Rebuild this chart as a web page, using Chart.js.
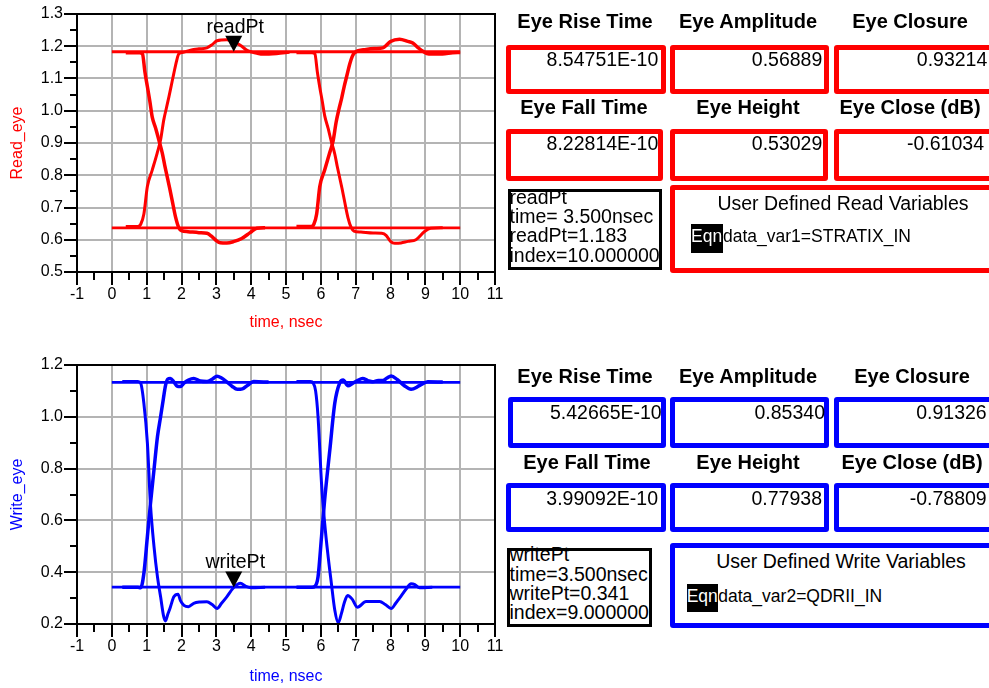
<!DOCTYPE html>
<html><head><meta charset="utf-8">
<script src="https://cdn.jsdelivr.net/npm/chart.js@4.4.1/dist/chart.umd.min.js"></script>
<style>
html,body{margin:0;padding:0;background:#fff;overflow:hidden;width:989px;height:688px;}
body{position:relative;font-family:"Liberation Sans",Arial,sans-serif;color:#000;}
canvas{position:absolute;left:0;}
.hdr{position:absolute;width:160px;text-align:center;font:bold 20px/20px "Liberation Sans",Arial,sans-serif;white-space:nowrap;}
.val{position:absolute;width:200px;text-align:right;font:19.5px/19.5px "Liberation Sans",Arial,sans-serif;white-space:nowrap;}
.box{position:absolute;box-sizing:border-box;border:5px solid;border-radius:3px;}
.red{border-color:#ff0000;}
.blue{border-color:#0000ff;}
.mbox{position:absolute;box-sizing:border-box;border:3px solid #000;}
.mk{position:absolute;font:19.5px/19.2px "Liberation Sans",Arial,sans-serif;white-space:pre;}
.ud{position:absolute;width:320px;text-align:center;font:19.5px/19.5px "Liberation Sans",Arial,sans-serif;white-space:nowrap;}
.eqbg{position:absolute;background:#000;}
.eq{position:absolute;font:17.5px/17.5px "Liberation Sans",Arial,sans-serif;white-space:nowrap;}
</style>
</head><body>
<canvas id="readChart" width="507" height="340" style="top:0"></canvas>
<canvas id="writeChart" width="507" height="344" style="top:350px"></canvas>

<!-- Read panel -->
<div class="hdr" style="left:505px;top:11.4px">Eye Rise Time</div>
<div class="hdr" style="left:668px;top:11.4px">Eye Amplitude</div>
<div class="hdr" style="left:830px;top:11.4px">Eye Closure</div>
<div class="box red" style="left:506px;top:45px;width:160px;height:49px"></div>
<div class="box red" style="left:670px;top:45px;width:159px;height:49px"></div>
<div class="box red" style="left:834px;top:45px;width:161px;height:49px"></div>
<div class="val" style="left:458.3px;top:49.5px">8.54751E-10</div>
<div class="val" style="left:622.3px;top:49.5px">0.56889</div>
<div class="val" style="left:787.3px;top:49.5px">0.93214</div>
<div class="hdr" style="left:504px;top:97.4px">Eye Fall Time</div>
<div class="hdr" style="left:668px;top:97.4px">Eye Height</div>
<div class="hdr" style="left:830px;top:97.4px">Eye Close (dB)</div>
<div class="box red" style="left:506px;top:129px;width:157px;height:52px"></div>
<div class="box red" style="left:670px;top:129px;width:158px;height:52px"></div>
<div class="box red" style="left:834px;top:129px;width:161px;height:52px"></div>
<div class="val" style="left:458.3px;top:134.2px">8.22814E-10</div>
<div class="val" style="left:622.3px;top:134.2px">0.53029</div>
<div class="val" style="left:784px;top:134.2px">-0.61034</div>
<div class="mbox" style="left:508px;top:189px;width:154px;height:81px"></div>
<div class="mk" style="left:509.5px;top:188px">readPt
time= 3.500nsec
readPt=1.183
index=10.000000</div>
<div class="box red" style="left:670px;top:185px;width:325px;height:88px"></div>
<div class="ud" style="left:683px;top:193.5px">User Defined Read Variables</div>
<div class="eqbg" style="left:691px;top:224px;width:32px;height:29px"></div>
<div class="eq" style="left:691px;top:227.9px;color:#fff">Eqn</div>
<div class="eq" style="left:723px;top:227.9px">data_var1=STRATIX_IN</div>

<!-- Write panel -->
<div class="hdr" style="left:505px;top:365.8px">Eye Rise Time</div>
<div class="hdr" style="left:668px;top:365.8px">Eye Amplitude</div>
<div class="hdr" style="left:832px;top:365.8px">Eye Closure</div>
<div class="box blue" style="left:508px;top:397px;width:158px;height:51px"></div>
<div class="box blue" style="left:670px;top:397px;width:159px;height:51px"></div>
<div class="box blue" style="left:834px;top:397px;width:161px;height:51px"></div>
<div class="val" style="left:461.7px;top:402.5px">5.42665E-10</div>
<div class="val" style="left:625px;top:402.5px">0.85340</div>
<div class="val" style="left:786.7px;top:402.5px">0.91326</div>
<div class="hdr" style="left:507px;top:452.1px">Eye Fall Time</div>
<div class="hdr" style="left:668px;top:452.1px">Eye Height</div>
<div class="hdr" style="left:832px;top:452.1px">Eye Close (dB)</div>
<div class="box blue" style="left:506px;top:483px;width:160px;height:49px"></div>
<div class="box blue" style="left:670px;top:483px;width:159px;height:49px"></div>
<div class="box blue" style="left:834px;top:483px;width:161px;height:49px"></div>
<div class="val" style="left:458px;top:488.5px">3.99092E-10</div>
<div class="val" style="left:622px;top:488.5px">0.77938</div>
<div class="val" style="left:786.7px;top:488.5px">-0.78809</div>
<div class="mbox" style="left:507px;top:548px;width:145px;height:79px"></div>
<div class="mk" style="left:509.5px;top:545.3px">writePt
time=3.500nsec
writePt=0.341
index=9.000000</div>
<div class="box blue" style="left:670px;top:543px;width:325px;height:85px"></div>
<div class="ud" style="left:681px;top:551.8px">User Defined Write Variables</div>
<div class="eqbg" style="left:686.7px;top:584.3px;width:31.6px;height:27.4px"></div>
<div class="eq" style="left:686.7px;top:587.5px;color:#fff">Eqn</div>
<div class="eq" style="left:718.3px;top:587.5px">data_var2=QDRII_IN</div>

<script>
// ---------- Data: Read eye (time in nsec, value) ----------
const readHighT = [0, 10];
const readHighV = [1.183, 1.183];
const readLowT = [0, 10];
const readLowV = [0.637, 0.637];
const readFall1T = [0.40, 0.80, 0.88, 0.95, 1.02, 1.09, 1.16, 1.26, 1.35, 1.45, 1.52, 1.59, 1.66, 1.73, 1.83, 1.92, 2.00, 2.19, 2.50, 2.73, 2.85, 2.97, 3.11, 3.30, 3.49, 3.73, 3.97, 4.16, 4.40];
const readFall1V = [1.180, 1.180, 1.176, 1.12, 1.075, 1.03, 0.98, 0.945, 0.909, 0.868, 0.83, 0.795, 0.76, 0.723, 0.67, 0.638, 0.628, 0.625, 0.622, 0.620, 0.612, 0.600, 0.591, 0.590, 0.594, 0.604, 0.622, 0.636, 0.637];
const readRise1T = [0.40, 0.75, 0.83, 0.92, 1.02, 1.16, 1.30, 1.40, 1.49, 1.57, 1.64, 1.71, 1.78, 1.86, 1.92, 2.05, 2.26, 2.50, 2.73, 2.88, 3.02, 3.30, 3.59, 3.73, 3.87, 4.02, 4.16, 4.35, 4.73, 5.10];
const readRise1V = [0.641, 0.641, 0.648, 0.68, 0.765, 0.816, 0.868, 0.91, 0.971, 1.01, 1.044, 1.08, 1.116, 1.155, 1.176, 1.181, 1.188, 1.192, 1.195, 1.205, 1.217, 1.220, 1.209, 1.200, 1.188, 1.182, 1.178, 1.175, 1.177, 1.181];
const readFall2T = [5.30, 5.75, 5.83, 5.90, 5.97, 6.04, 6.11, 6.21, 6.30, 6.40, 6.47, 6.54, 6.61, 6.68, 6.78, 6.87, 6.95, 7.15, 7.50, 7.75, 7.88, 8.00, 8.12, 8.30, 8.50, 8.73, 8.97, 9.16, 9.50];
const readFall2V = [1.180, 1.180, 1.176, 1.12, 1.072, 1.03, 0.985, 0.945, 0.905, 0.866, 0.828, 0.793, 0.758, 0.72, 0.668, 0.638, 0.627, 0.624, 0.621, 0.620, 0.613, 0.595, 0.589, 0.590, 0.595, 0.600, 0.625, 0.636, 0.637];
const readRise2T = [5.30, 5.72, 5.80, 5.88, 5.97, 6.11, 6.25, 6.35, 6.44, 6.52, 6.60, 6.67, 6.75, 6.83, 6.90, 6.97, 7.30, 7.55, 7.78, 7.90, 8.00, 8.26, 8.50, 8.64, 8.80, 8.92, 9.10, 9.49, 9.78, 10.00];
const readRise2V = [0.641, 0.641, 0.648, 0.68, 0.765, 0.816, 0.868, 0.905, 0.965, 1.005, 1.04, 1.075, 1.11, 1.145, 1.168, 1.18, 1.19, 1.193, 1.195, 1.205, 1.215, 1.222, 1.215, 1.21, 1.195, 1.185, 1.176, 1.176, 1.180, 1.181];
const readMarker = { label: 'readPt', t: 3.5, v: 1.183 };

// ---------- Data: Write eye ----------
const writeHighT = [0, 10];
const writeHighV = [1.133, 1.133];
const writeLowT = [0, 10];
const writeLowV = [0.342, 0.342];
const writeFall1T = [0.30, 0.75, 0.83, 0.92, 1.02, 1.11, 1.21, 1.31, 1.40, 1.49, 1.54, 1.60, 1.68, 1.78, 1.90, 1.97, 2.07, 2.20, 2.35, 2.54, 2.73, 2.88, 3.02, 3.15, 3.30, 3.50, 3.69, 3.85, 4.00, 4.40];
const writeFall1V = [1.136, 1.136, 1.129, 1.052, 0.90, 0.66, 0.50, 0.382, 0.305, 0.228, 0.212, 0.235, 0.265, 0.305, 0.315, 0.29, 0.272, 0.267, 0.28, 0.285, 0.286, 0.275, 0.26, 0.28, 0.305, 0.341, 0.357, 0.345, 0.34, 0.342];
const writeRise1T = [0.30, 0.75, 0.83, 0.92, 1.02, 1.11, 1.21, 1.31, 1.40, 1.48, 1.54, 1.60, 1.68, 1.78, 1.88, 1.97, 2.07, 2.20, 2.35, 2.54, 2.73, 2.88, 3.02, 3.15, 3.30, 3.45, 3.60, 3.75, 3.90, 4.07, 4.50];
const writeRise1V = [0.342, 0.342, 0.340, 0.396, 0.537, 0.666, 0.795, 0.923, 1.00, 1.07, 1.12, 1.145, 1.148, 1.135, 1.118, 1.117, 1.13, 1.142, 1.148, 1.138, 1.136, 1.145, 1.157, 1.15, 1.135, 1.118, 1.106, 1.108, 1.122, 1.136, 1.134];
const writeFall2T = [5.30, 5.70, 5.78, 5.85, 5.92, 6.02, 6.11, 6.21, 6.30, 6.40, 6.50, 6.59, 6.68, 6.77, 6.90, 7.05, 7.30, 7.50, 7.69, 7.85, 8.02, 8.15, 8.26, 8.45, 8.59, 8.70, 8.83, 9.20];
const writeFall2V = [1.136, 1.136, 1.13, 1.10, 1.00, 0.743, 0.589, 0.46, 0.36, 0.254, 0.205, 0.24, 0.285, 0.31, 0.296, 0.265, 0.287, 0.287, 0.287, 0.275, 0.26, 0.28, 0.30, 0.335, 0.355, 0.352, 0.34, 0.342];
const writeRise2T = [5.30, 5.75, 5.83, 5.92, 6.02, 6.11, 6.26, 6.40, 6.54, 6.64, 6.78, 6.90, 7.05, 7.20, 7.35, 7.49, 7.65, 7.78, 7.90, 8.02, 8.20, 8.40, 8.59, 8.83, 9.07, 9.50];
const writeRise2V = [0.342, 0.342, 0.345, 0.382, 0.537, 0.68, 0.874, 1.052, 1.13, 1.142, 1.12, 1.128, 1.14, 1.148, 1.14, 1.135, 1.14, 1.14, 1.15, 1.158, 1.143, 1.12, 1.106, 1.12, 1.135, 1.134];
const writeMarker = { label: 'writePt', t: 3.5, v: 0.341 };

// ---------- Axis ranges ----------
const timeMin = -1, timeMax = 11;
const readYMin = 0.5, readYMax = 1.3;
const writeYMin = 0.2, writeYMax = 1.2;

// ---------- Rendering ----------
const FONT = "'Liberation Sans', Arial, sans-serif";
const GRID = '#b4b4b4';
const isMult = (v, step) => Math.abs(v / step - Math.round(v / step)) < 1e-6;
const pts = (t, v) => t.map((x, i) => ({ x, y: v[i] }));

const framePlugin = {
  id: 'frame',
  afterDatasetsDraw(chart) {
    const { ctx, chartArea: a } = chart;
    ctx.save();
    ctx.strokeStyle = '#000';
    ctx.lineWidth = 2;
    ctx.strokeRect(a.left, a.top, a.right - a.left, a.bottom - a.top);
    ctx.restore();
  }
};

function markerPlugin(m) {
  return {
    id: 'marker',
    afterDraw(chart) {
      const ctx = chart.ctx;
      const px = chart.scales.x.getPixelForValue(m.t);
      const py = chart.scales.y.getPixelForValue(m.v);
      ctx.save();
      ctx.fillStyle = '#000';
      ctx.beginPath();
      ctx.moveTo(px, py);
      ctx.lineTo(px - 8.5, py - 16);
      ctx.lineTo(px + 8.5, py - 16);
      ctx.closePath();
      ctx.fill();
      ctx.font = '19.5px ' + FONT;
      ctx.textAlign = 'center';
      ctx.textBaseline = 'alphabetic';
      ctx.fillText(m.label, px + 1.5, py - 19);
      ctx.restore();
    }
  };
}

function eyeChart(id, color, yTitle, yMin, yMax, yMinor, yMajor, traces, marker, padTop, xHeight) {
  return new Chart(document.getElementById(id), {
    type: 'line',
    data: {
      datasets: traces.map(tr => ({
        data: pts(tr[0], tr[1]),
        borderColor: color,
        borderWidth: tr[2],
        pointRadius: 0,
        fill: false,
        cubicInterpolationMode: 'monotone'
      }))
    },
    options: {
      responsive: false,
      animation: false,
      devicePixelRatio: 1,
      layout: { padding: { top: padTop, right: 12, left: 0, bottom: 0 } },
      plugins: { legend: { display: false }, tooltip: { enabled: false } },
      scales: {
        x: {
          type: 'linear', min: timeMin, max: timeMax,
          afterFit: s => { s.height = xHeight; },
          ticks: {
            stepSize: 0.5, autoSkip: false, maxRotation: 0, padding: 0,
            color: '#000', font: { family: FONT, size: 16 },
            callback: v => isMult(v, 1) ? String(Math.round(v)) : ''
          },
          grid: {
            color: c => (c.tick && isMult(c.tick.value, 1)) ? GRID : 'rgba(0,0,0,0)',
            lineWidth: 2, tickColor: '#000', tickWidth: 2, tickLength: 13,
            tickBorderDash: c => (c.tick && isMult(c.tick.value, 1)) ? [] : [7, 40]
          },
          border: { color: '#000', width: 2 },
          title: { display: true, text: 'time, nsec', color, font: { family: FONT, size: 16 }, padding: { top: 8, bottom: 8 } }
        },
        y: {
          type: 'linear', min: yMin, max: yMax,
          afterFit: s => { s.width = 77; },
          ticks: {
            stepSize: yMinor, autoSkip: false, padding: 1,
            color: '#000', font: { family: FONT, size: 16 },
            callback: v => isMult(v, yMajor) ? v.toFixed(1) : ''
          },
          grid: {
            color: c => (c.tick && isMult(c.tick.value, yMajor)) ? GRID : 'rgba(0,0,0,0)',
            lineWidth: 2, tickColor: '#000', tickWidth: 2, tickLength: 13,
            tickBorderDash: c => (c.tick && isMult(c.tick.value, yMajor)) ? [] : [0, 6, 7, 40]
          },
          border: { color: '#000', width: 2 },
          title: { display: true, text: yTitle, color, font: { family: FONT, size: 16 }, padding: { top: 8, bottom: 0 } }
        }
      }
    },
    plugins: [framePlugin, markerPlugin(marker)]
  });
}

eyeChart('readChart', '#ff0000', 'Read_eye', readYMin, readYMax, 0.05, 0.1, [
  [readHighT, readHighV, 2.8],
  [readLowT, readLowV, 2.8],
  [readFall1T, readFall1V, 3.5],
  [readRise1T, readRise1V, 3],
  [readFall2T, readFall2V, 3],
  [readRise2T, readRise2V, 3.5]
], readMarker, 14, 68);

eyeChart('writeChart', '#0000ff', 'Write_eye', writeYMin, writeYMax, 0.1, 0.2, [
  [writeHighT, writeHighV, 2.8],
  [writeLowT, writeLowV, 2.8],
  [writeFall1T, writeFall1V, 3],
  [writeRise1T, writeRise1V, 3.5],
  [writeFall2T, writeFall2V, 3],
  [writeRise2T, writeRise2V, 3.5]
], writeMarker, 15, 70);
</script>
</body></html>
